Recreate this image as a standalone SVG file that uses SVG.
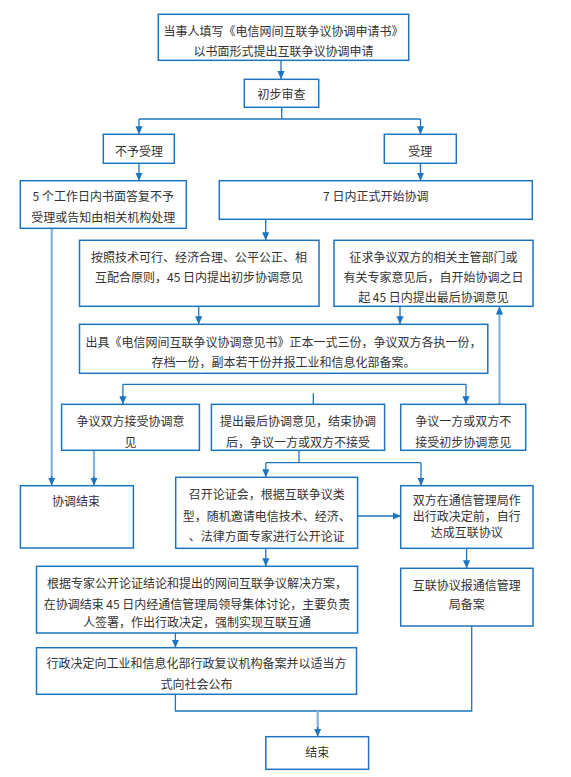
<svg xmlns="http://www.w3.org/2000/svg" width="571" height="777" viewBox="0 0 571 777">
<defs>
<marker id="arr" viewBox="0 0 10 10" refX="10" refY="5" markerWidth="8" markerHeight="8" markerUnits="userSpaceOnUse" orient="auto">
<path d="M0,0.5 L10,5 L0,9.5 z" fill="#1f74c0"/>
</marker>
<style>
.box{fill:#ffffff;stroke:#1f74c0;stroke-width:1.5}
.t{font-family:"Noto Sans CJK SC","Noto Sans CJK JP",sans-serif;font-size:12px;fill:#333333;text-anchor:middle;dominant-baseline:central}
.c{fill:none;stroke:#1f74c0;stroke-width:1.3}
.l{fill:none;stroke:#80b3e0;stroke-width:2.2}
</style>
</defs>
<rect width="571" height="777" fill="#ffffff"/>
<g id="connectors">
<path class="c" d="M281,60.3 V79" marker-end="url(#arr)"/>
<path class="c" d="M281.7,107.3 V119"/>
<path class="c" d="M139,119 H420.5"/>
<path class="c" d="M139,119 V134.3" marker-end="url(#arr)"/>
<path class="c" d="M420.5,119 V134.3" marker-end="url(#arr)"/>
<path class="c" d="M139,163.3 V180.7" marker-end="url(#arr)"/>
<path class="c" d="M420.5,163.3 V180.7" marker-end="url(#arr)"/>
<path class="c" d="M265.7,219.3 V240.3" marker-end="url(#arr)"/>
<path class="c" d="M198.7,306.3 V324.3" marker-end="url(#arr)"/>
<path class="c" d="M400,306.3 V324.3" marker-end="url(#arr)"/>
<path class="l" d="M499.5,404.3 V312"/>
<path class="c" d="M499.5,312 V306.5" marker-end="url(#arr)"/>
<path class="c" d="M122.9,384.3 H466"/>
<path class="c" d="M122.9,384.3 V404.3" marker-end="url(#arr)"/>
<path class="c" d="M466,384.3 V404.3" marker-end="url(#arr)"/>
<path class="c" d="M313.3,393.3 V422" marker-end="url(#arr)"/>
<path class="l" d="M51.7,228.3 V478"/>
<path class="c" d="M51.7,476 V485.7" marker-end="url(#arr)"/>
<path class="l" d="M94,450.3 V478"/>
<path class="c" d="M94,476 V485.7" marker-end="url(#arr)"/>
<path class="c" d="M299,450.3 V462.7"/>
<path class="c" d="M265.8,462.7 H421"/>
<path class="c" d="M265.8,462.7 V477.3" marker-end="url(#arr)"/>
<path class="c" d="M421,462.7 V485.7" marker-end="url(#arr)"/>
<path class="c" d="M357.6,516 H400.7" marker-end="url(#arr)"/>
<path class="c" d="M265.8,548.3 V566.3" marker-end="url(#arr)"/>
<path class="c" d="M466.6,548.3 V568.3" marker-end="url(#arr)"/>
<path class="c" d="M175.4,633 V647.7" marker-end="url(#arr)"/>
<path class="c" d="M175.4,694.3 V711 H471.7 V626"/>
<path class="l" d="M317.7,711 V729"/>
<path class="c" d="M317.7,727 V736.7" marker-end="url(#arr)"/>
</g>
<g id="n1"><rect class="box" x="158.3" y="14.3" width="250.4" height="46"/>
<text class="t" x="283.5" y="30.7">当事人填写《电信网间互联争议协调申请书》</text>
<text class="t" x="283.5" y="50">以书面形式提出互联争议协调申请</text></g>
<g id="n2"><rect class="box" x="244.3" y="79.3" width="74.4" height="28"/>
<text class="t" x="281.5" y="93.7">初步审查</text></g>
<g id="n3"><rect class="box" x="103.3" y="134.3" width="71" height="29"/>
<text class="t" x="139" y="150">不予受理</text></g>
<g id="n4"><rect class="box" x="384.3" y="134.3" width="72" height="29"/>
<text class="t" x="420.3" y="150">受理</text></g>
<g id="n5"><rect class="box" x="20.3" y="180.7" width="166" height="47.6"/>
<text class="t" x="103.3" y="195.7">5 个工作日内书面答复不予</text>
<text class="t" x="103.3" y="216.7">受理或告知由相关机构处理</text></g>
<g id="n6"><rect class="box" x="219.3" y="180.7" width="313" height="38.6"/>
<text class="t" x="375.8" y="195.7">7 日内正式开始协调</text></g>
<g id="n7"><rect class="box" x="79.5" y="240.3" width="239.5" height="66"/>
<text class="t" x="199" y="256.7">按照技术可行、经济合理、公平公正、相</text>
<text class="t" x="199" y="276.7">互配合原则，45 日内提出初步协调意见</text></g>
<g id="n8"><rect class="box" x="334" y="240.3" width="199" height="66"/>
<text class="t" x="433.5" y="256.7">征求争议双方的相关主管部门或</text>
<text class="t" x="433.5" y="276.7">有关专家意见后，自开始协调之日</text>
<text class="t" x="433.5" y="296.7">起 45 日内提出最后协调意见</text></g>
<g id="n9"><rect class="box" x="79.5" y="324.3" width="408.3" height="49"/>
<text class="t" x="283.6" y="341.7">出具《电信网间互联争议协调意见书》正本一式三份，争议双方各执一份，</text>
<text class="t" x="283.6" y="361">存档一份，副本若干份并报工业和信息化部备案。</text></g>
<g id="n10"><rect class="box" x="61.6" y="404.3" width="137.8" height="46"/>
<text class="t" x="130.5" y="420">争议双方接受协调意</text>
<text class="t" x="130.5" y="441">见</text></g>
<g id="n11"><rect class="box" x="211.4" y="404.3" width="173.2" height="46"/>
<text class="t" x="298" y="420">提出最后协调意见，结束协调</text>
<text class="t" x="298" y="441">后，争议一方或双方不接受</text></g>
<g id="n12"><rect class="box" x="400.7" y="404.3" width="125" height="46"/>
<text class="t" x="463.2" y="420">争议一方或双方不</text>
<text class="t" x="463.2" y="441">接受初步协调意见</text></g>
<g id="n13"><rect class="box" x="20.4" y="485.7" width="113" height="62.3"/>
<text class="t" x="76" y="500.7">协调结束</text></g>
<g id="n14"><rect class="box" x="175.7" y="477.3" width="181.9" height="71"/>
<text class="t" x="266.7" y="493.3">召开论证会，根据互联争议类</text>
<text class="t" x="266.7" y="515">型，随机邀请电信技术、经济、</text>
<text class="t" x="266.7" y="535">、法律方面专家进行公开论证</text></g>
<g id="n15"><rect class="box" x="400.7" y="485.7" width="132.3" height="62.6"/>
<text class="t" x="466.8" y="499.3">双方在通信管理局作</text>
<text class="t" x="466.8" y="515">出行政决定前，自行</text>
<text class="t" x="466.8" y="531.3">达成互联协议</text></g>
<g id="n16"><rect class="box" x="36.5" y="566.3" width="321.1" height="66.7"/>
<text class="t" x="197" y="582.7">根据专家公开论证结论和提出的网间互联争议解决方案，</text>
<text class="t" x="197" y="603.3">在协调结束 45 日内经通信管理局领导集体讨论，主要负责</text>
<text class="t" x="197" y="621.7">人签署，作出行政决定，强制实现互联互通</text></g>
<g id="n17"><rect class="box" x="400.7" y="568.3" width="132.3" height="57.7"/>
<text class="t" x="466.8" y="584">互联协议报通信管理</text>
<text class="t" x="466.8" y="603.3">局备案</text></g>
<g id="n18"><rect class="box" x="36.5" y="647.7" width="320" height="46.6"/>
<text class="t" x="196.5" y="662.7">行政决定向工业和信息化部行政复议机构备案并以适当方</text>
<text class="t" x="196.5" y="683.3">式向社会公布</text></g>
<g id="n19"><rect class="box" x="265.8" y="736.7" width="102.8" height="32.6"/>
<text class="t" x="317.2" y="751.7">结束</text></g>
</svg>
